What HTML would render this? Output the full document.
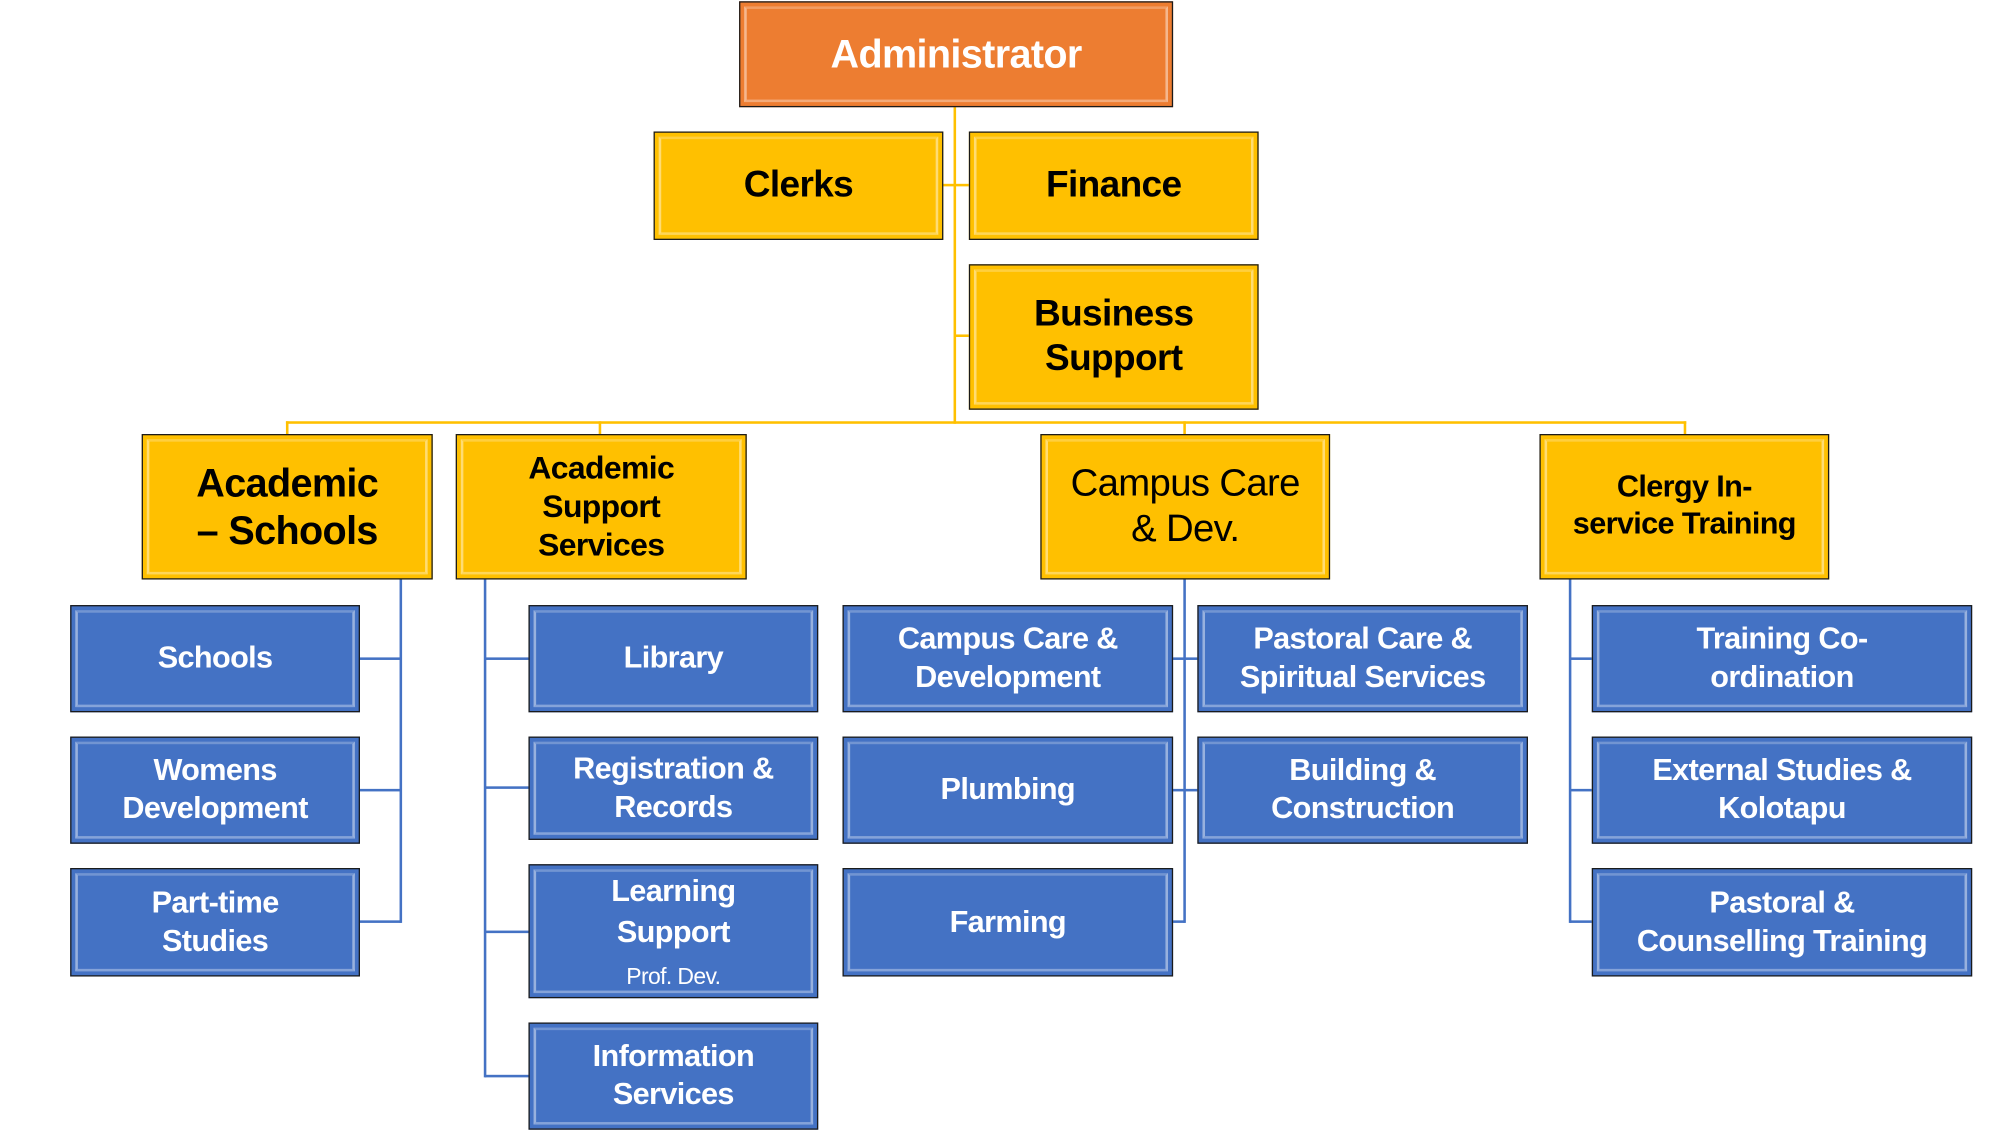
<!DOCTYPE html>
<html><head><meta charset="utf-8"><style>
html,body{margin:0;padding:0;background:#fff;width:1999px;height:1145px;overflow:hidden}
#w{position:absolute;left:0;top:0;width:1560px;height:894px;transform:scale(1.2765);transform-origin:0 0;font-family:"Liberation Sans",sans-serif}
.b{position:absolute;box-sizing:border-box;border:1.5px solid #1a1a1a;display:flex;align-items:center;justify-content:center;text-align:center;font-weight:bold;line-height:1.2;letter-spacing:-0.5px}
.b::before{content:"";position:absolute;left:3px;right:3px;top:3px;bottom:3px;border-left:2px solid rgba(255,255,255,.45);border-right:2px solid rgba(255,255,255,.45);border-top:2px solid rgba(255,255,255,.25);border-bottom:2px solid rgba(255,255,255,.35)}
.y{background:#FFC000;color:#000;font-size:29px}
.o{background:#ED7D31;color:#fff;font-size:31px}
.u{background:#4472C4;color:#fff;font-size:24px;line-height:1.25}
.l{position:absolute}
.yl{background:#FFC000}
.bl{background:#4472C4}
</style></head><body><div id="w">
<div class="l yl" style="left:747px;top:83px;width:2px;height:249px"></div>
<div class="l yl" style="left:738px;top:144px;width:21px;height:2px"></div>
<div class="l yl" style="left:748px;top:262px;width:11px;height:2px"></div>
<div class="l yl" style="left:224px;top:330px;width:1097px;height:2px"></div>
<div class="l yl" style="left:224px;top:330px;width:2px;height:11px"></div>
<div class="l yl" style="left:469px;top:330px;width:2px;height:11px"></div>
<div class="l yl" style="left:927px;top:330px;width:2px;height:11px"></div>
<div class="l yl" style="left:1319px;top:330px;width:2px;height:11px"></div>
<div class="l bl" style="left:313px;top:453px;width:2px;height:270px"></div>
<div class="l bl" style="left:281px;top:515px;width:33px;height:2px"></div>
<div class="l bl" style="left:281px;top:618px;width:33px;height:2px"></div>
<div class="l bl" style="left:281px;top:721px;width:33px;height:2px"></div>
<div class="l bl" style="left:379px;top:453px;width:2px;height:391px"></div>
<div class="l bl" style="left:380px;top:515px;width:34px;height:2px"></div>
<div class="l bl" style="left:380px;top:616px;width:34px;height:2px"></div>
<div class="l bl" style="left:380px;top:729px;width:34px;height:2px"></div>
<div class="l bl" style="left:380px;top:842px;width:34px;height:2px"></div>
<div class="l bl" style="left:927px;top:453px;width:2px;height:270px"></div>
<div class="l bl" style="left:918px;top:515px;width:20px;height:2px"></div>
<div class="l bl" style="left:918px;top:618px;width:20px;height:2px"></div>
<div class="l bl" style="left:918px;top:721px;width:10px;height:2px"></div>
<div class="l bl" style="left:1229px;top:453px;width:2px;height:270px"></div>
<div class="l bl" style="left:1230px;top:515px;width:17px;height:2px"></div>
<div class="l bl" style="left:1230px;top:618px;width:17px;height:2px"></div>
<div class="l bl" style="left:1230px;top:721px;width:17px;height:2px"></div>

<div class="b o" style="left:579px;top:1px;width:340px;height:83px">Administrator</div>
<div class="b y" style="left:512px;top:103px;width:227px;height:85px">Clerks</div>
<div class="b y" style="left:759px;top:103px;width:227px;height:85px">Finance</div>
<div class="b y" style="left:759px;top:207px;width:227px;height:114px">Business<br>Support</div>

<div class="b y" style="left:111px;top:340px;width:228px;height:114px;font-size:31px">Academic<br>– Schools</div>
<div class="b y" style="left:357px;top:340px;width:228px;height:114px;font-size:25px;line-height:1.2">Academic<br>Support<br>Services</div>
<div class="b y" style="left:815px;top:340px;width:227px;height:114px;font-weight:normal;font-size:30px">Campus Care<br>&amp; Dev.</div>
<div class="b y" style="left:1206px;top:340px;width:227px;height:114px;font-size:24px">Clergy In-<br>service Training</div>

<div class="b u" style="left:55px;top:474px;width:227px;height:84px">Schools</div>
<div class="b u" style="left:55px;top:577px;width:227px;height:84px">Womens<br>Development</div>
<div class="b u" style="left:55px;top:680px;width:227px;height:85px">Part-time<br>Studies</div>

<div class="b u" style="left:414px;top:474px;width:227px;height:84px">Library</div>
<div class="b u" style="left:414px;top:577px;width:227px;height:81px">Registration &amp;<br>Records</div>
<div class="b u" style="left:414px;top:677px;width:227px;height:105px;line-height:1.35;padding-top:4px"><div>Learning<br>Support<br><span style="font-weight:normal;font-size:18px">Prof. Dev.</span></div></div>
<div class="b u" style="left:414px;top:801px;width:227px;height:84px">Information<br>Services</div>

<div class="b u" style="left:660px;top:474px;width:259px;height:84px">Campus Care &amp;<br>Development</div>
<div class="b u" style="left:660px;top:577px;width:259px;height:84px">Plumbing</div>
<div class="b u" style="left:660px;top:680px;width:259px;height:85px">Farming</div>
<div class="b u" style="left:938px;top:474px;width:259px;height:84px">Pastoral Care &amp;<br>Spiritual Services</div>
<div class="b u" style="left:938px;top:577px;width:259px;height:84px">Building &amp;<br>Construction</div>

<div class="b u" style="left:1247px;top:474px;width:298px;height:84px">Training Co-<br>ordination</div>
<div class="b u" style="left:1247px;top:577px;width:298px;height:84px">External Studies &amp;<br>Kolotapu</div>
<div class="b u" style="left:1247px;top:680px;width:298px;height:85px">Pastoral &amp;<br>Counselling Training</div>
</div></body></html>
